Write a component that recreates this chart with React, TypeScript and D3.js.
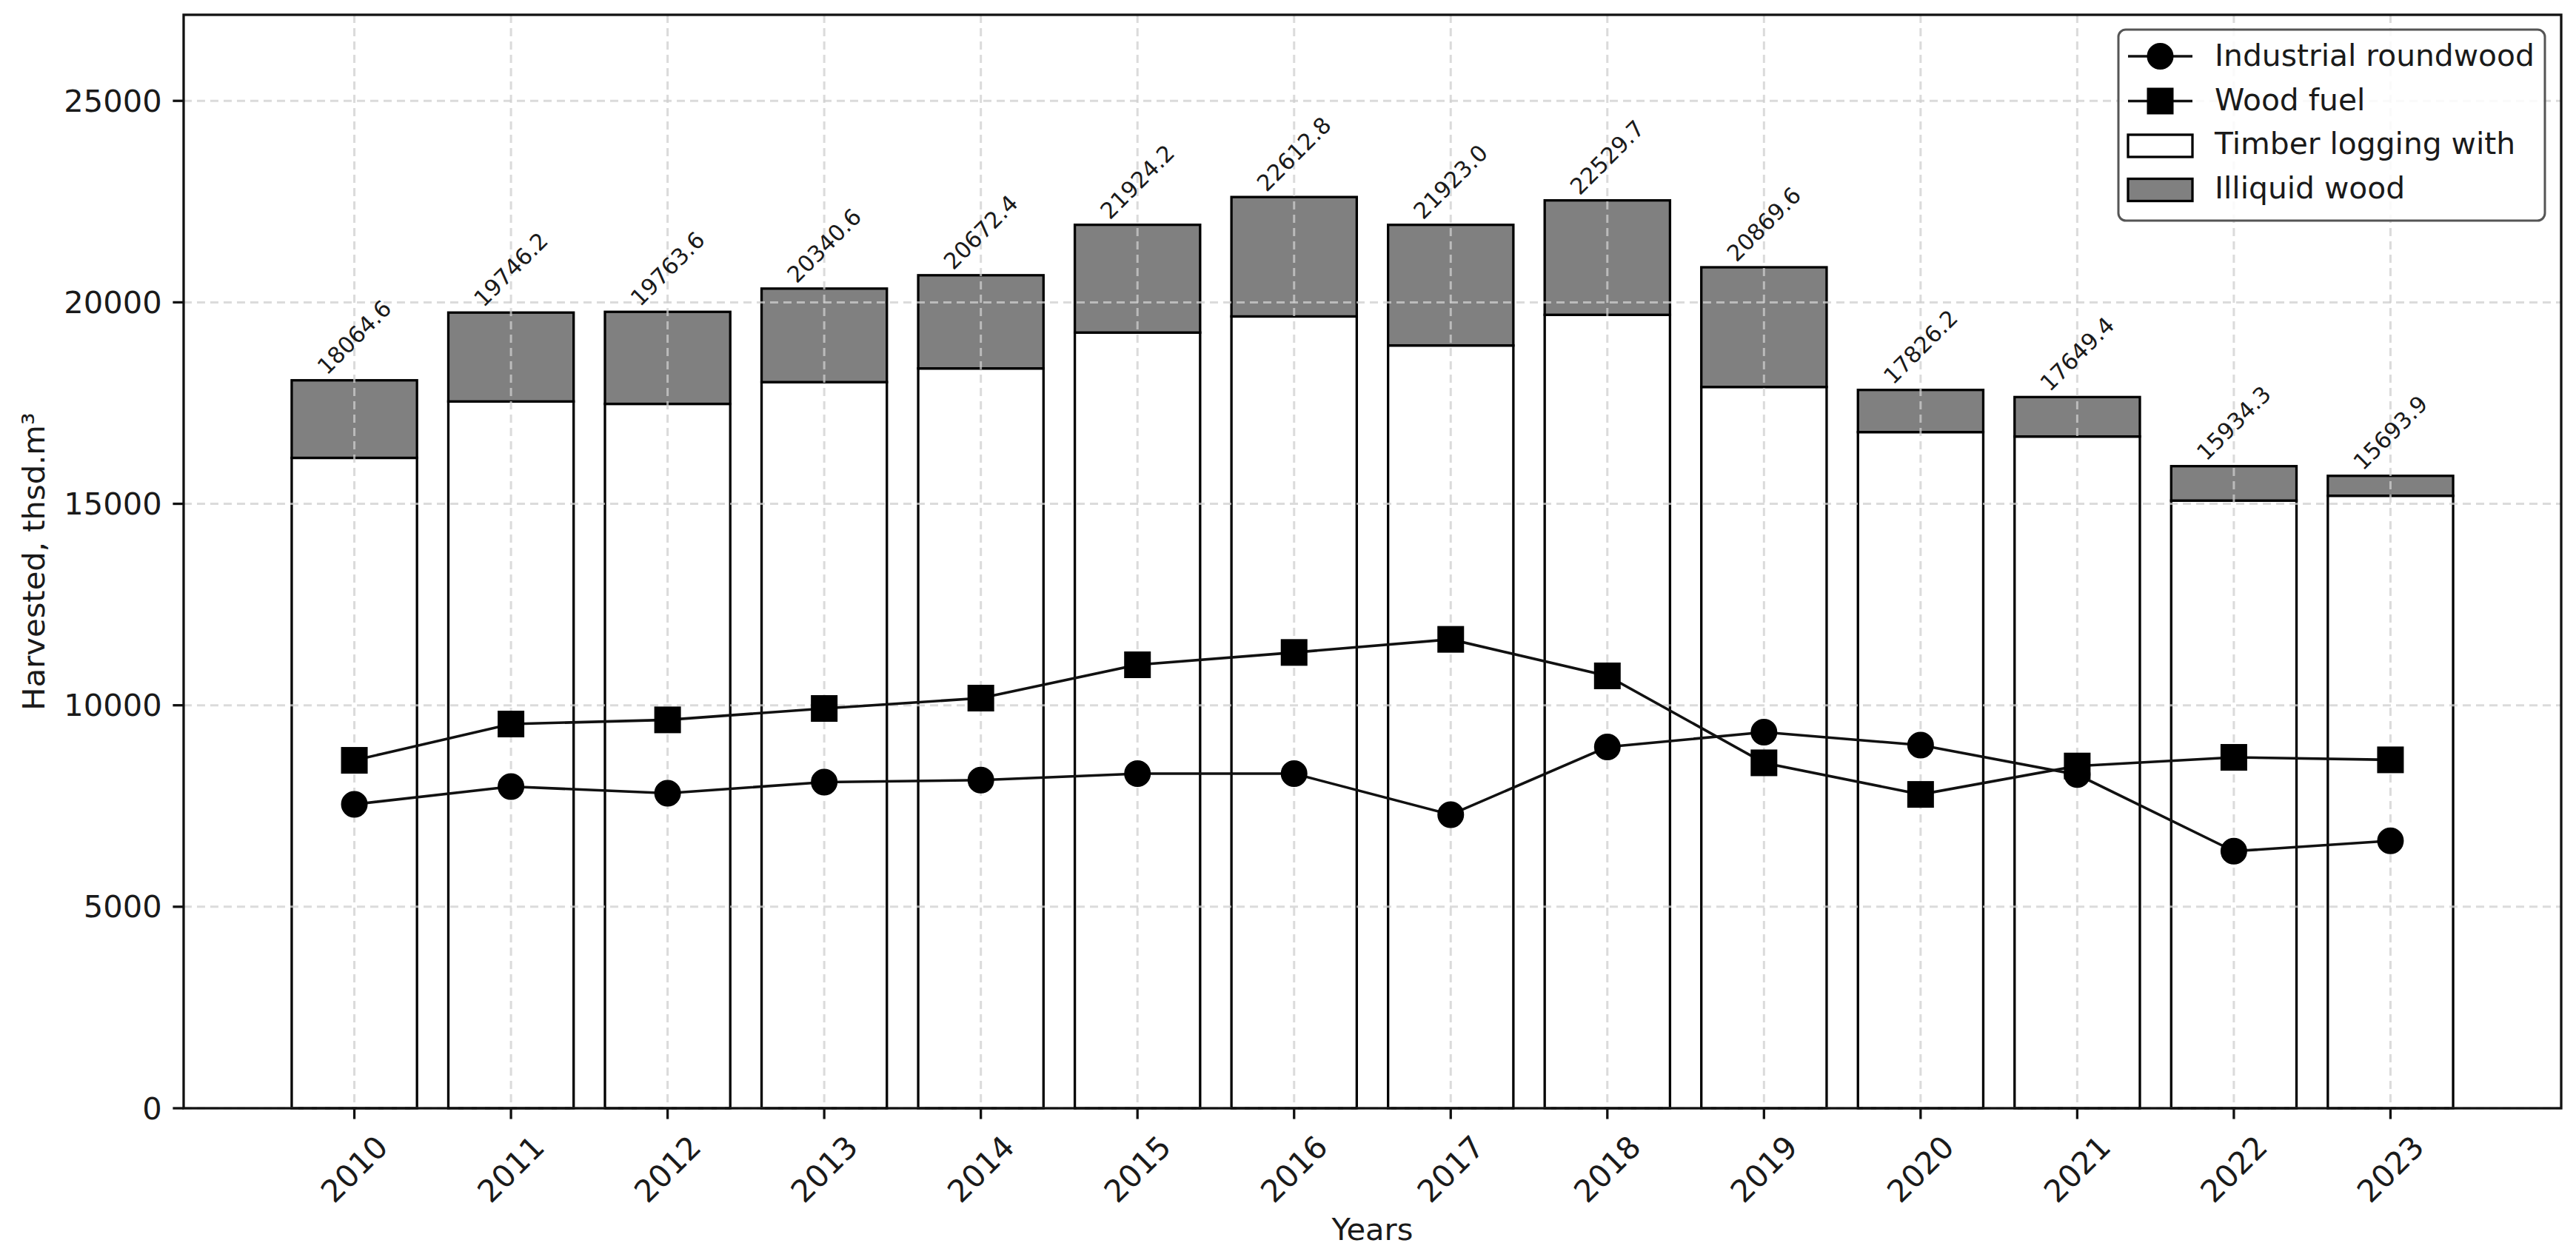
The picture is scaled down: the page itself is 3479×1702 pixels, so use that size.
import React from "react";
import * as d3 from "d3";

if (typeof document !== "undefined") {
  document.body.style.margin = "0";
}

const years = ["2010", "2011", "2012", "2013", "2014", "2015", "2016", "2017", "2018", "2019", "2020", "2021", "2022", "2023"];
const totalLabels = [18064.6, 19746.2, 19763.6, 20340.6, 20672.4, 21924.2, 22612.8, 21923.0, 22529.7, 20869.6, 17826.2, 17649.4, 15934.3, 15693.9];
const timberLogging = [16140, 17540, 17480, 18020, 18360, 19250, 19650, 18930, 19690, 17900, 16780, 16670, 15080, 15200];
const illiquidWood = [1925, 2206, 2284, 2321, 2312, 2674, 2963, 2993, 2840, 2970, 1046, 979, 854, 494];
const industrialRoundwood = [7542, 7983, 7818, 8094, 8143, 8303, 8303, 7285, 8965, 9332, 9012, 8280, 6379, 6636];
const woodFuel = [8634, 9535, 9638, 9921, 10178, 11005, 11311, 11636, 10730, 8572, 7788, 8493, 8708, 8646];
const yTicks = [0, 5000, 10000, 15000, 20000, 25000];
const legendLabels = ["Industrial roundwood", "Wood fuel", "Timber logging with", "Illiquid wood"];

const W = 3479;
const H = 1702;
const L = 248;
const R = 3459;
const T = 20;
const B = 1497;
const FONT = "DejaVu Sans, Verdana, sans-serif";
const FS = 41.67;
const LFS = 40.8;
const AFS = 30.5;
const TXT = "#1a1a1a";

export default function App() {
  const x = d3.scaleBand<string>().domain(years).range([L, R]).paddingInner(0.2).paddingOuter(0.69);
  const bw = x.bandwidth();
  const cx = (yr: string) => (x(yr) as number) + bw / 2;
  const yMax = d3.max(totalLabels) as number;
  const y = d3.scaleLinear().domain([0, yMax * 1.2]).range([B, T]);

  const line = d3
    .line<number>()
    .x((_, i) => cx(years[i]))
    .y((d) => y(d));

  const tickLen = 14.6;
  const gridStyle = { stroke: "#cfcfcf", strokeWidth: 3, strokeDasharray: "11,7", opacity: 0.75 };

  const lgX = 2861, lgY = 40, lgW = 576, lgH = 258;
  const baselines = [89, 148.5, 208, 267.5];
  const hx0 = 2874, hx1 = 2961, hxc = (hx0 + hx1) / 2;
  const tx = 2991;

  return (
    <svg width={W} height={H} style={{ display: "block", background: "#fff" }} fontFamily={FONT}>
      <rect x={0} y={0} width={W} height={H} fill="#fff" />
      {/* bars */}
      {years.map((yr, i) => (
        <g key={"bar" + yr}>
          <rect
            x={x(yr)}
            y={y(timberLogging[i])}
            width={bw}
            height={y(0) - y(timberLogging[i])}
            fill="#ffffff"
            stroke="#000"
            strokeWidth={3.3}
          />
          <rect
            x={x(yr)}
            y={y(timberLogging[i] + illiquidWood[i])}
            width={bw}
            height={y(timberLogging[i]) - y(timberLogging[i] + illiquidWood[i])}
            fill="#808080"
            stroke="#000"
            strokeWidth={3.3}
          />
        </g>
      ))}
      {/* grid */}
      {yTicks.map((t) => (
        <line key={"gy" + t} x1={L} x2={R} y1={y(t)} y2={y(t)} {...gridStyle} />
      ))}
      {years.map((yr) => (
        <line key={"gx" + yr} x1={cx(yr)} x2={cx(yr)} y1={T} y2={B} {...gridStyle} />
      ))}
      {/* lines */}
      <path d={line(industrialRoundwood) || ""} fill="none" stroke="#111" strokeWidth={3.6} />
      <path d={line(woodFuel) || ""} fill="none" stroke="#111" strokeWidth={3.6} />
      {industrialRoundwood.map((v, i) => (
        <circle key={"ir" + i} cx={cx(years[i])} cy={y(v)} r={16.5} fill="#000" stroke="#000" strokeWidth={3} />
      ))}
      {woodFuel.map((v, i) => (
        <rect key={"wf" + i} x={cx(years[i]) - 16.5} y={y(v) - 16.5} width={33} height={33} fill="#000" stroke="#000" strokeWidth={3} />
      ))}
      {/* total labels */}
      {totalLabels.map((v, i) => {
        const px = cx(years[i]);
        const py = y(v) - 58;
        return (
          <text
            key={"tl" + i}
            x={px}
            y={py}
            fontSize={AFS}
            textAnchor="middle"
            dominantBaseline="central"
            fill={TXT}
            transform={`rotate(-45, ${px}, ${py})`}
          >
            {v.toFixed(1)}
          </text>
        );
      })}
      {/* spines */}
      <rect x={L} y={T} width={R - L} height={B - T} fill="none" stroke="#111" strokeWidth={3.3} />
      {/* y ticks */}
      {yTicks.map((t) => (
        <g key={"yt" + t}>
          <line x1={L - tickLen} x2={L} y1={y(t)} y2={y(t)} stroke="#111" strokeWidth={3.3} />
          <text x={L - tickLen - 14.6} y={y(t)} fontSize={FS} textAnchor="end" dominantBaseline="central" fill={TXT}>
            {t}
          </text>
        </g>
      ))}
      {/* x ticks */}
      {years.map((yr) => {
        const px = cx(yr);
        const py = B + tickLen + 14.6 + 53;
        return (
          <g key={"xt" + yr}>
            <line x1={px} x2={px} y1={B} y2={B + tickLen} stroke="#111" strokeWidth={3.3} />
            <text
              x={px}
              y={py}
              fontSize={FS}
              textAnchor="middle"
              dominantBaseline="central"
              fill={TXT}
              transform={`rotate(-45, ${px}, ${py})`}
            >
              {yr}
            </text>
          </g>
        );
      })}
      {/* axis labels */}
      <text x={(L + R) / 2} y={1675} fontSize={FS} textAnchor="middle" fill={TXT}>
        Years
      </text>
      <text
        x={60}
        y={(T + B) / 2}
        fontSize={FS}
        textAnchor="middle"
        fill={TXT}
        transform={`rotate(-90, 60, ${(T + B) / 2})`}
      >
        Harvested, thsd.m³
      </text>
      {/* legend */}
      <rect x={lgX} y={lgY} width={lgW} height={lgH} rx={10} ry={10} fill="#fff" fillOpacity={0.85} stroke="#555" strokeWidth={3} />
      <g>
        <line x1={hx0} x2={hx1} y1={baselines[0] - 13} y2={baselines[0] - 13} stroke="#111" strokeWidth={3.6} />
        <circle cx={hxc} cy={baselines[0] - 13} r={16.5} fill="#000" stroke="#000" strokeWidth={3} />
        <line x1={hx0} x2={hx1} y1={baselines[1] - 12} y2={baselines[1] - 12} stroke="#111" strokeWidth={3.6} />
        <rect x={hxc - 16.5} y={baselines[1] - 12 - 16.5} width={33} height={33} fill="#000" stroke="#000" strokeWidth={3} />
        <rect x={hx0} y={baselines[2] - 11 - 15} width={hx1 - hx0} height={30} fill="#fff" stroke="#000" strokeWidth={3.3} />
        <rect x={hx0} y={baselines[3] - 11 - 15} width={hx1 - hx0} height={30} fill="#808080" stroke="#000" strokeWidth={3.3} />
        {legendLabels.map((lab, i) => (
          <text key={"lg" + i} x={tx} y={baselines[i]} fontSize={LFS} fill={TXT}>
            {lab}
          </text>
        ))}
      </g>
    </svg>
  );
}
